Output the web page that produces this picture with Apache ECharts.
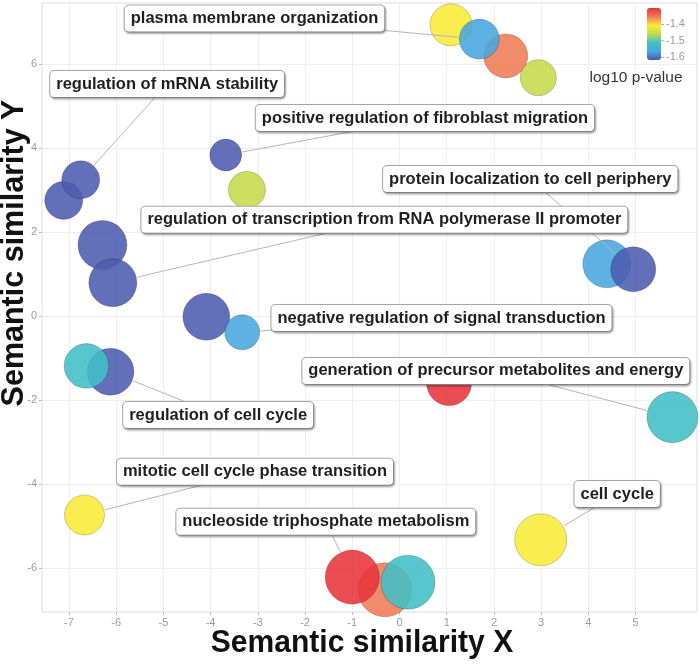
<!DOCTYPE html>
<html><head><meta charset="utf-8">
<script src="https://cdn.jsdelivr.net/npm/echarts@6/dist/echarts.min.js"></script>
<style>html,body{margin:0;padding:0;background:#fff}#c{width:700px;height:668px}</style>
</head><body><div id="c"></div>
<script>
// GO terms (bubbles), in drawing order
const termX   = [1.09, 2.25, 2.94, 1.69, -7.11, -6.75, -3.68, -3.23, -6.29, -6.07, -4.09, -3.33, -6.12, -6.63, 4.39, 4.95, 5.78, 1.05, -6.67, 2.99, -0.31, -1.00, 0.18];
const termY   = [6.93, 6.19, 5.67, 6.59, 2.75, 3.24, 3.83, 3.00, 1.69, 0.79, -0.02, -0.39, -1.33, -1.19, 1.24, 1.11, -2.41, -1.60, -4.74, -5.33, -6.52, -6.22, -6.34];
const logSize = [3.17, 3.33, 2.67, 3.00, 2.83, 2.83, 2.33, 2.75, 3.75, 3.67, 3.58, 2.58, 3.58, 3.38, 3.67, 3.42, 3.92, 3.42, 3.00, 4.00, 4.17, 4.17, 4.17];
const log10p  = [-1.405, -1.353, -1.458, -1.563, -1.616, -1.616, -1.616, -1.458, -1.616, -1.616, -1.616, -1.563, -1.616, -1.511, -1.563, -1.616, -1.511, -1.300, -1.405, -1.405, -1.353, -1.300, -1.511];

// Labels
const labelText = ['plasma membrane organization', 'regulation of mRNA stability', 'positive regulation of fibroblast migration',
  'protein localization to cell periphery', 'regulation of transcription from RNA polymerase II promoter',
  'negative regulation of signal transduction', 'generation of precursor metabolites and energy',
  'regulation of cell cycle', 'mitotic cell cycle phase transition', 'cell cycle', 'nucleoside triphosphate metabolism'];
const labelX = [-3.07, -4.92, 0.54, 2.77, -0.32, 0.89, 2.04, -3.84, -3.06, 4.61, -1.56];
const labelY = [7.08, 5.52, 4.71, 3.26, 2.29, -0.05, -1.31, -2.36, -3.71, -4.24, -4.90];
const labelTarget = [3, 5, 6, 15, 9, 11, 16, 12, 18, 19, 21];

// Axis / legend
const xTicks = [-7, -6, -5, -4, -3, -2, -1, 0, 1, 2, 3, 4, 5];
const yTicks = [-6, -4, -2, 0, 2, 4, 6];
const legendTicks = [-1.4, -1.5, -1.6];
const pMin = -1.616, pMax = -1.30;

const diam = s => 12 * s + 4;

const chart = echarts.init(document.getElementById('c'), null, {renderer: 'canvas'});
const bubbleData = termX.map((x, i) => [x, termY[i], log10p[i], logSize[i]]);
const labelData = labelText.map((t, i) => [labelX[i], labelY[i]]);
const lineData = labelText.map((t, i) => {
  const k = labelTarget[i];
  return [labelX[i], labelY[i], termX[k], termY[k], logSize[k]];
});

const FONT = '"Liberation Sans", Arial, sans-serif';
const barLeft = 647, barTop = 8, barW = 14, barH = 52;
const gr = [];
legendTicks.forEach(v => {
  const y = barTop + barH * (pMax - v) / (pMax - pMin);
  gr.push({type: 'line', z: 100, shape: {x1: barLeft + barW, y1: y, x2: barLeft + barW + 3, y2: y}, style: {stroke: '#aaa', lineWidth: 1}, silent: true});
  gr.push({type: 'text', z: 100, x: barLeft + barW + 5, y: y, style: {text: v.toFixed(1), fill: '#9a9a9a', font: '11px ' + FONT, textVerticalAlign: 'middle', textAlign: 'left'}, silent: true});
});
gr.push({type: 'text', z: 100, x: 636, y: 78, style: {text: 'log10 p-value', fill: '#333', font: '15.5px ' + FONT, textAlign: 'center', textVerticalAlign: 'middle'}, silent: true});
gr.push({type: 'text', z: 100, x: 362, y: 643, scaleX: 0.97, style: {text: 'Semantic similarity X', fill: '#111', font: 'bold 31px ' + FONT, textAlign: 'center', textVerticalAlign: 'middle'}, silent: true});
gr.push({type: 'text', z: 100, x: 15, y: 253, rotation: Math.PI / 2, style: {text: 'Semantic similarity Y', fill: '#111', font: 'bold 30.5px ' + FONT, textAlign: 'center', textVerticalAlign: 'middle'}, silent: true});

const axisCommon = {
  type: 'value',
  axisLine: {show: false, onZero: false},
  splitLine: {show: true, lineStyle: {color: '#efefef', width: 1}}
};

chart.setOption({
  animation: false,
  backgroundColor: '#fff',
  grid: {left: 42, right: 3, top: 3, bottom: 56, show: true, borderColor: '#dcdcdc', borderWidth: 1, backgroundColor: '#fff'},
  xAxis: Object.assign({}, axisCommon, {
    min: -7.57, max: 6.3,
    axisTick: {show: true, length: 3, lineStyle: {color: '#bbb'}, customValues: xTicks},
    axisLabel: {color: '#9a9a9a', fontSize: 11, margin: 5, fontFamily: FONT, customValues: xTicks}
  }),
  yAxis: Object.assign({}, axisCommon, {
    min: -7.05, max: 7.45,
    axisTick: {show: true, length: 3, lineStyle: {color: '#bbb'}, customValues: yTicks},
    axisLabel: {color: '#9a9a9a', fontSize: 11, margin: 5, fontFamily: FONT, customValues: yTicks}
  }),
  visualMap: {
    type: 'continuous', seriesIndex: 0, dimension: 2, min: pMin, max: pMax,
    calculable: false, left: barLeft, top: barTop, itemWidth: barW, itemHeight: barH, padding: 0,
    text: null, showLabel: false, hoverLink: false,
    inRange: {color: ['#4B5CAF', '#48A6DE', '#41BFC6', '#C6DB4B', '#F8EB38', '#F07A55', '#E8343A']}
  },
  graphic: gr,
  series: [
    {
      type: 'scatter', z: 2, silent: true,
      data: bubbleData,
      symbolSize: v => diam(v[3]),
      itemStyle: {opacity: 0.88, borderColor: 'rgba(0,0,0,0.22)', borderWidth: 1},
      emphasis: {disabled: true}
    },
    {
      type: 'custom', z: 3, silent: true, clip: false,
      coordinateSystem: 'cartesian2d',
      data: lineData,
      encode: {x: [0, 2], y: [1, 3]},
      renderItem: (params, api) => {
        const a = api.coord([api.value(0), api.value(1)]);
        const b = api.coord([api.value(2), api.value(3)]);
        const r = diam(api.value(4)) / 2 + 1;
        const dx = b[0] - a[0], dy = b[1] - a[1], L = Math.hypot(dx, dy);
        return {type: 'line', shape: {x1: a[0], y1: a[1], x2: b[0] - dx / L * r, y2: b[1] - dy / L * r},
                style: {stroke: '#b5b5b5', lineWidth: 1}};
      }
    },
    {
      type: 'custom', z: 4, silent: true, clip: false,
      coordinateSystem: 'cartesian2d',
      data: labelData,
      encode: {x: 0, y: 1},
      renderItem: (params, api) => {
        const p = api.coord([api.value(0), api.value(1)]);
        return {
          type: 'text', x: p[0], y: p[1],
          style: {
            text: labelText[params.dataIndex],
            font: 'bold 16.5px ' + FONT, fill: '#1f1f1f',
            align: 'center', verticalAlign: 'middle', lineHeight: 18,
            backgroundColor: '#ffffff', borderColor: '#a8a8a8', borderWidth: 1, borderRadius: 4,
            padding: [4, 6, 4, 6],
            shadowColor: 'rgba(0,0,0,0.28)', shadowBlur: 2, shadowOffsetX: 1, shadowOffsetY: 1.5
          }
        };
      }
    }
  ]
});
</script></body></html>
